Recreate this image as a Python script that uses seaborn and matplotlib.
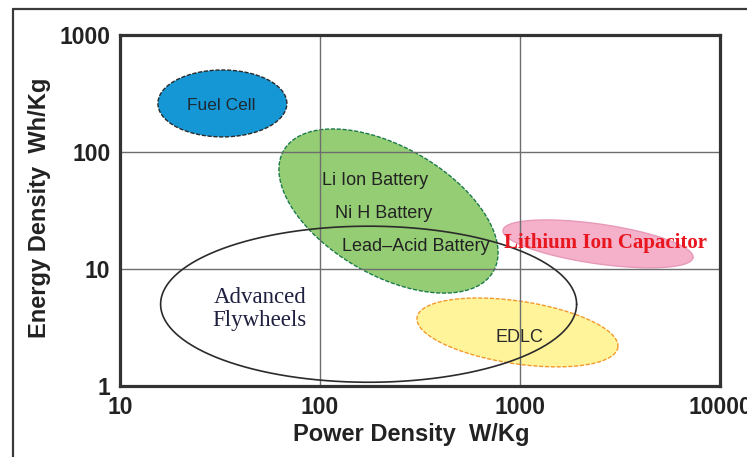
import numpy as np
import pandas as pd
import matplotlib
matplotlib.use("Agg")
import matplotlib.pyplot as plt
from matplotlib.lines import Line2D
import seaborn as sns

# Energy-storage technologies (Ragone plot regions)
technologies = ["Fuel Cell", "Li/NiH/Lead-Acid Battery", "Lithium Ion Capacitor",
                "EDLC", "Advanced Flywheels"]
# centre of each region: power density (W/Kg) and energy density (Wh/Kg)
center_power = [32.5, 220.0, 2455.0, 971.0, 175.0]
center_energy = [260.0, 31.3, 16.4, 2.87, 5.0]
# half-axes of each region, in decades (log10 units) along power / energy
major_dx = [0.3225, 0.524, 0.475, 0.502, 1.04]
major_dy = [0.0, -0.517, -0.117, -0.128, 0.0]
minor_dx = [0.0, 0.160, 0.0142, 0.0232, 0.0]
minor_dy = [0.286, 0.474, 0.168, 0.265, 0.667]

face_colors = ["#1597d5", "#94cd74", "#f4b1c9", "#fff49a", "none"]
edge_colors = ["#2a2a2a", "#1d7a4c", "#e79ab8", "#f29a2e", "#2b2b2b"]
edge_styles = [(0, (3, 1.2)), (0, (3, 1.2)), "-", (0, (3, 1.2)), "-"]

x_ticks = [10, 100, 1000, 10000]
y_ticks = [1, 10, 100, 1000]
x_ticklabels = ["10", "100", "1000", "10000"]
y_ticklabels = ["1", "10", "100", "1000"]

sns.set_theme(style="white")
plt.rcParams["font.family"] = ["Liberation Sans", "DejaVu Sans"]

W, H = 747, 457
fig = plt.figure(figsize=(W / 100, H / 100), dpi=100)
ax = fig.add_axes([120 / W, 1 - 386 / H, 600 / W, 351 / H])
ax.set_xscale("log")
ax.set_yscale("log")
ax.set_xlim(10, 10000)
ax.set_ylim(1, 1000)

# outline points of each region
t = np.linspace(0, 2 * np.pi, 400)
rows = []
for i, name in enumerate(technologies):
    lx = np.log10(center_power[i]) + major_dx[i] * np.cos(t) + minor_dx[i] * np.sin(t)
    ly = np.log10(center_energy[i]) + major_dy[i] * np.cos(t) + minor_dy[i] * np.sin(t)
    rows.append(pd.DataFrame({"tech": name, "order": np.arange(len(t)),
                              "power": 10 ** lx, "energy": 10 ** ly}))
outlines = pd.concat(rows, ignore_index=True)

for i, name in enumerate(technologies):
    d = outlines[outlines["tech"] == name]
    z = 3.0 if face_colors[i] == "none" else 1.0 + 0.1 * i
    if face_colors[i] != "none":
        ax.fill(d["power"], d["energy"], color=face_colors[i], zorder=z, lw=0)
    sns.lineplot(data=d, x="power", y="energy", sort=False, estimator=None,
                 color=edge_colors[i], linestyle=edge_styles[i],
                 lw=1.2 if face_colors[i] == "none" else 1.0, ax=ax, zorder=z + 0.05)

ax.set_xticks(x_ticks)
ax.set_xticklabels(x_ticklabels)
ax.set_yticks(y_ticks)
ax.set_yticklabels(y_ticklabels)
ax.minorticks_off()
ax.tick_params(axis="both", length=0, labelsize=16.5, colors="#222222")
ax.tick_params(axis="x", pad=7)
ax.tick_params(axis="y", pad=7)
for lab in ax.get_xticklabels() + ax.get_yticklabels():
    lab.set_fontweight("bold")
ax.set_axisbelow(False)
ax.grid(True, color="#6e6e6e", lw=1.0, zorder=2.5)
ax.set_xlabel("")
ax.set_ylabel("")
for side, sp in ax.spines.items():
    sp.set_visible(True)
    sp.set_color("#333333")
    sp.set_linewidth(2.3)
    sp.set_zorder(5)

# region labels
txt = dict(ha="center", va="center", zorder=6)
ax.text(32, 252, "Fuel Cell", fontsize=12.5, color="#1e2a33", **txt)
ax.text(188, 57.6, "Li Ion Battery", fontsize=13, color="#222222", **txt)
ax.text(209, 30.1, "Ni H Battery", fontsize=13, color="#222222", **txt)
ax.text(302, 15.7, "Lead\u2013Acid Battery", fontsize=13, color="#222222", **txt)
ax.text(988, 2.62, "EDLC", fontsize=13, color="#2a2a2a", **txt)
ax.text(2690, 16.7, "Lithium Ion Capacitor", fontsize=15, fontweight="bold",
        color="#e8161f", family=["Liberation Serif", "DejaVu Serif"], **txt)
ax.text(50, 4.55, "Advanced\nFlywheels", fontsize=16.5, color="#1f2040",
        family=["Liberation Serif", "DejaVu Serif"], linespacing=1.15, **txt)

# axis titles
fig.text(411 / W, 1 - 434 / H, "Power Density  W/Kg", ha="center", va="center",
         fontsize=17, fontweight="bold", color="#222222")
fig.text(40 / W, 1 - 208 / H, "Energy Density  Wh/Kg", ha="center", va="center",
         rotation=90, fontsize=17, fontweight="bold", color="#222222")

# outer frame
fig.add_artist(Line2D([13 / W, 1.0], [1 - 9 / H, 1 - 9 / H], color="#3a3a3a", lw=1.6))
fig.add_artist(Line2D([13 / W, 13 / W], [0.0, 1 - 9 / H], color="#3a3a3a", lw=1.6))

fig.savefig("out.png", dpi=100)
